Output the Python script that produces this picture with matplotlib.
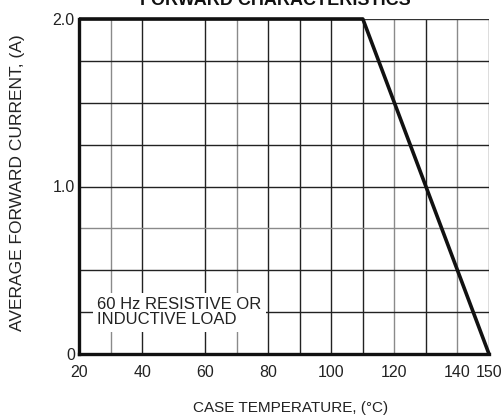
import matplotlib
matplotlib.use("Agg")
import matplotlib.pyplot as plt

# data
temp = [20, 110, 150]
current = [2.0, 2.0, 0.0]
xticks = [20, 40, 60, 80, 100, 120, 140, 150]
xgrid = [30, 40, 60, 70, 80, 90, 100, 110, 120, 130, 140, 150]
ygrid = [0.25, 0.5, 0.75, 1.0, 1.25, 1.5, 1.75, 2.0]
yticks = [0, 1.0, 2.0]
yticklabels = ["0", "1.0", "2.0"]

GRAY = '#8a8a8a'
DARK = '#222222'
xgrid_col = [GRAY, DARK, DARK, GRAY, DARK, DARK, DARK, DARK, GRAY, DARK, GRAY, '#555555']
ygrid_col = [DARK, DARK, GRAY, DARK, DARK, DARK, DARK, '#333333']

fam = ['Liberation Sans Narrow', 'Liberation Sans', 'DejaVu Sans']
plt.rcParams['font.family'] = fam

fig = plt.figure(figsize=(5.03, 4.16), dpi=100)
ax = fig.add_axes([79/503, 1-354/416, (489-79)/503, (354-19)/416])
ax.set_xlim(20, 150)
ax.set_ylim(0, 2.0)

for x, c in zip(xgrid, xgrid_col):
    ax.axvline(x, color=c, lw=1.0, zorder=1)
for y, c in zip(ygrid, ygrid_col):
    ax.axhline(y, color=c, lw=1.0, zorder=1)

ax.plot(temp, current, color='#111111', lw=2.6, zorder=4, solid_capstyle='butt',
        clip_on=False)

for s in ['top', 'right']:
    ax.spines[s].set_visible(False)
ax.spines['left'].set_linewidth(2.4)
ax.spines['bottom'].set_linewidth(2.4)
ax.spines['left'].set_color('#111111')
ax.spines['bottom'].set_color('#111111')

ax.set_xticks(xticks)
ax.set_xticklabels([str(v) for v in xticks])
ax.set_yticks(yticks)
ax.set_yticklabels(yticklabels)
ax.tick_params(axis='x', length=0, labelsize=11.5, colors='#222222', pad=8)
ax.tick_params(axis='y', length=0, labelsize=11.5, colors='#222222', pad=3)

ax.text(25.8, 0.25, "60 Hz RESISTIVE OR\nINDUCTIVE LOAD", fontsize=12, color='#222222',
        va='center', ha='left', linespacing=1.05, zorder=5, family='Liberation Sans',
        bbox=dict(facecolor='white', edgecolor='none', pad=3))

fig.text(17.5/503, 1-183/416, "AVERAGE FORWARD CURRENT, (A)", rotation=90, fontsize=12.5,
         color='#222222', ha='center', va='center', family='Liberation Sans')
fig.text(291/503, 1-408/416, "CASE TEMPERATURE, (°C)", fontsize=11,
         color='#222222', ha='center', va='center', family='Liberation Sans')
fig.text(275/503, 1-5/416, "FORWARD CHARACTERISTICS", fontsize=13, fontweight='bold',
         color='#111111', ha='center', va='baseline', family='Liberation Sans')

fig.savefig("out.png", dpi=100)
